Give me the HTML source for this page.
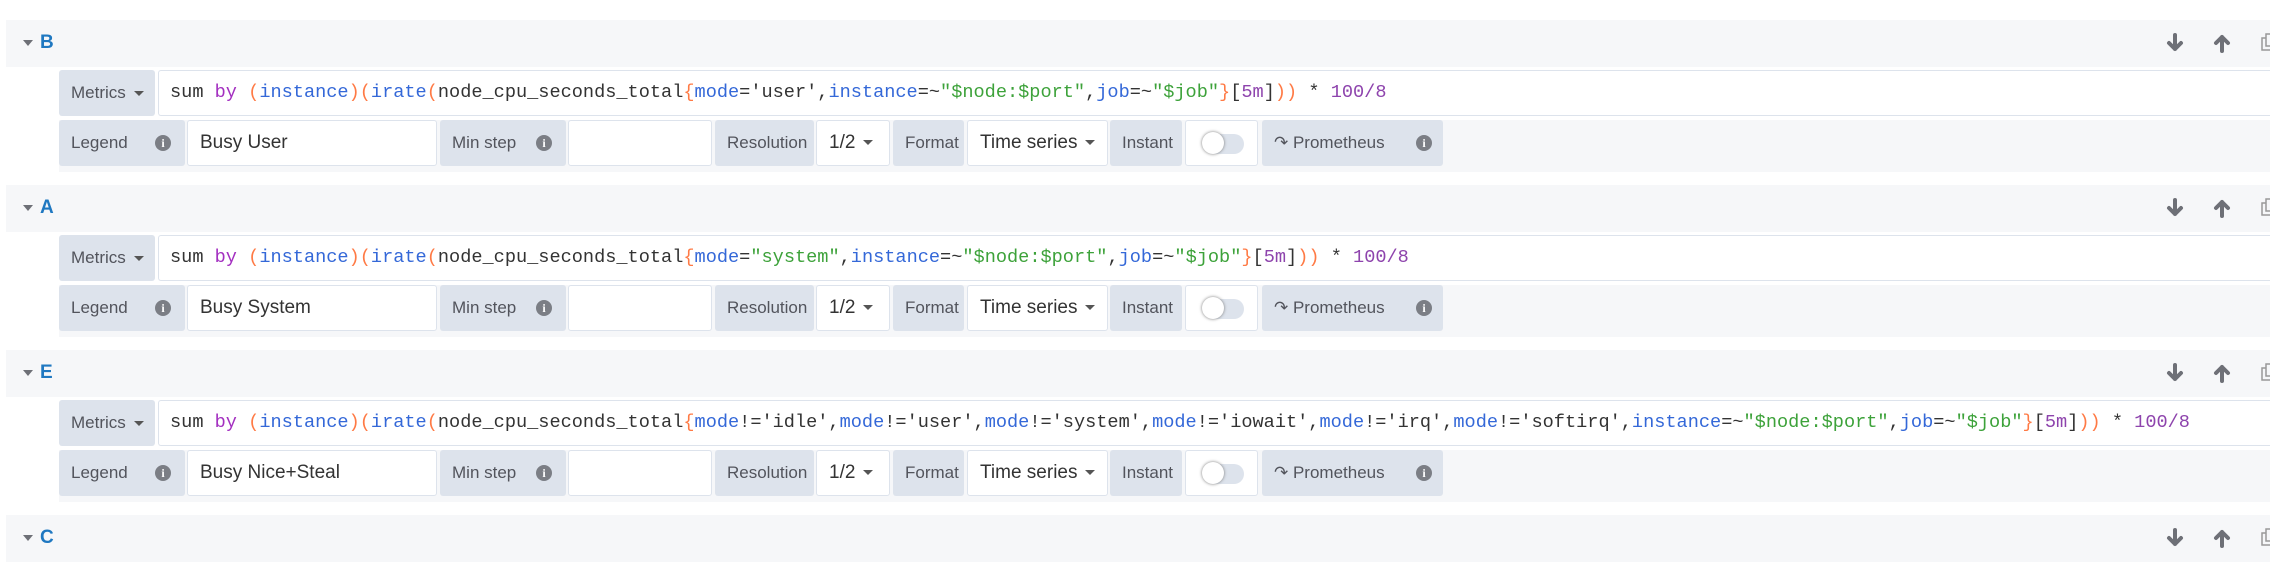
<!DOCTYPE html>
<html><head><meta charset="utf-8"><style>
*{box-sizing:border-box;margin:0;padding:0}
body{width:2270px;height:558px;background:#fff;position:relative;overflow:hidden;font-family:"Liberation Sans",sans-serif}
.a{position:absolute}
.hdr{position:absolute;left:6px;width:2264px;height:47px;background:#f6f7f9}
.tri{position:absolute;left:17px;top:20px;width:0;height:0;border-left:5px solid transparent;border-right:5px solid transparent;border-top:6px solid #6e7077}
.ttl{position:absolute;left:34px;top:12px;font-size:19px;font-weight:bold;color:#1f78c1}
.ic{position:absolute;top:13px}
.bg2{position:absolute;left:59px;width:2211px;height:52px;background:#f6f7f9}
.lab{position:absolute;height:46px;background:#dde3ec;border-radius:3px;color:#52545c;font-size:17px;line-height:46px;padding-left:12px}
.inp{position:absolute;height:46px;background:#fff;border:1px solid #dde3ec;border-radius:3px;color:#333;font-size:19px;line-height:44px;padding-left:12px}
.info{position:absolute;top:15px;width:16px;height:16px;border-radius:50%;background:#7b7e85;color:#fff;font-size:12px;font-weight:bold;line-height:16px;text-align:center;font-family:"Liberation Serif",serif}
.car{display:inline-block;width:0;height:0;border-left:5px solid transparent;border-right:5px solid transparent;border-top:5px solid #555;vertical-align:middle;margin-left:8px}
.q{position:absolute;left:158px;right:0;height:46px;background:#fff;border:1px solid #dde3ec;border-right:none;border-radius:3px 0 0 3px;font-family:"Liberation Mono",monospace;font-size:18.6px;line-height:44px;padding-left:11px;color:#333;white-space:pre}
.k{color:#a32fc0}.p{color:#ff7a45}.f{color:#3468d8}.s{color:#3da23a}.n{color:#8e44ad}
.tg{position:absolute;top:13px;left:18px;width:40px;height:20px;border-radius:10px;background:#dde3ec}
.tg:after{content:"";position:absolute;left:-2px;top:-2px;width:22px;height:22px;border-radius:50%;background:#fff;box-shadow:0 0 3px #777}
</style></head><body>

<svg width="0" height="0" style="position:absolute"><defs>
<g id="dn"><path d="M9 2 V16 M3 10 L9 16 L15 10" stroke="#6e7077" stroke-width="4" fill="none" stroke-linecap="round" stroke-linejoin="round"/></g>
<g id="up"><path d="M9 18 V4 M3 10 L9 4 L15 10" stroke="#6e7077" stroke-width="4" fill="none" stroke-linecap="round" stroke-linejoin="round"/></g>
<g id="cp"><rect x="2" y="5" width="9" height="12" fill="none" stroke="#999" stroke-width="1.5"/><rect x="6" y="1" width="9" height="12" fill="#f6f7f9" stroke="#999" stroke-width="1.5"/></g>
</defs></svg>

<div class="a" style="left:0;top:20px;width:2270px;height:160px">
<div class="hdr" style="top:0"><div class="tri"></div><div class="ttl">B</div><svg class="ic" style="left:2160px" width="18" height="20"><use href="#dn"/></svg><svg class="ic" style="left:2207px" width="18" height="20"><use href="#up"/></svg><svg class="ic" style="left:2254px" width="18" height="20"><use href="#cp"/></svg></div>
<div class="bg2" style="top:100px"></div>
<div class="lab" style="left:59px;top:50px;width:96px">Metrics<span class="car"></span></div>
<div class="q" style="top:50px">sum <span class="k">by</span> <span class="p">(</span><span class="f">instance</span><span class="p">)(</span><span class="f">irate</span><span class="p">(</span>node_cpu_seconds_total<span class="p">{</span><span class="f">mode</span>='user',<span class="f">instance</span>=~<span class="s">"$node:$port"</span>,<span class="f">job</span>=~<span class="s">"$job"</span><span class="p">}</span>[<span class="n">5m</span>]<span class="p">))</span> * <span class="n">100/8</span></div>
<div class="lab" style="left:59px;top:100px;width:126px">Legend<div class="info" style="left:96px">i</div></div>
<div class="inp" style="left:187px;top:100px;width:250px">Busy User</div>
<div class="lab" style="left:440px;top:100px;width:126px">Min step<div class="info" style="left:96px">i</div></div>
<div class="inp" style="left:568px;top:100px;width:144px"></div>
<div class="lab" style="left:715px;top:100px;width:99px">Resolution</div>
<div class="inp" style="left:816px;top:100px;width:74px">1/2<span class="car"></span></div>
<div class="lab" style="left:893px;top:100px;width:71px">Format</div>
<div class="inp" style="left:967px;top:100px;width:141px">Time series<span class="car"></span></div>
<div class="lab" style="left:1110px;top:100px;width:72px">Instant</div>
<div class="inp" style="left:1185px;top:100px;width:73px"><div class="tg"></div></div>
<div class="lab" style="left:1262px;top:100px;width:181px">&#8631; Prometheus<div class="info" style="left:154px">i</div></div>
</div>

<div class="a" style="left:0;top:185px;width:2270px;height:160px">
<div class="hdr" style="top:0"><div class="tri"></div><div class="ttl">A</div><svg class="ic" style="left:2160px" width="18" height="20"><use href="#dn"/></svg><svg class="ic" style="left:2207px" width="18" height="20"><use href="#up"/></svg><svg class="ic" style="left:2254px" width="18" height="20"><use href="#cp"/></svg></div>
<div class="bg2" style="top:100px"></div>
<div class="lab" style="left:59px;top:50px;width:96px">Metrics<span class="car"></span></div>
<div class="q" style="top:50px">sum <span class="k">by</span> <span class="p">(</span><span class="f">instance</span><span class="p">)(</span><span class="f">irate</span><span class="p">(</span>node_cpu_seconds_total<span class="p">{</span><span class="f">mode</span>=<span class="s">"system"</span>,<span class="f">instance</span>=~<span class="s">"$node:$port"</span>,<span class="f">job</span>=~<span class="s">"$job"</span><span class="p">}</span>[<span class="n">5m</span>]<span class="p">))</span> * <span class="n">100/8</span></div>
<div class="lab" style="left:59px;top:100px;width:126px">Legend<div class="info" style="left:96px">i</div></div>
<div class="inp" style="left:187px;top:100px;width:250px">Busy System</div>
<div class="lab" style="left:440px;top:100px;width:126px">Min step<div class="info" style="left:96px">i</div></div>
<div class="inp" style="left:568px;top:100px;width:144px"></div>
<div class="lab" style="left:715px;top:100px;width:99px">Resolution</div>
<div class="inp" style="left:816px;top:100px;width:74px">1/2<span class="car"></span></div>
<div class="lab" style="left:893px;top:100px;width:71px">Format</div>
<div class="inp" style="left:967px;top:100px;width:141px">Time series<span class="car"></span></div>
<div class="lab" style="left:1110px;top:100px;width:72px">Instant</div>
<div class="inp" style="left:1185px;top:100px;width:73px"><div class="tg"></div></div>
<div class="lab" style="left:1262px;top:100px;width:181px">&#8631; Prometheus<div class="info" style="left:154px">i</div></div>
</div>

<div class="a" style="left:0;top:350px;width:2270px;height:160px">
<div class="hdr" style="top:0"><div class="tri"></div><div class="ttl">E</div><svg class="ic" style="left:2160px" width="18" height="20"><use href="#dn"/></svg><svg class="ic" style="left:2207px" width="18" height="20"><use href="#up"/></svg><svg class="ic" style="left:2254px" width="18" height="20"><use href="#cp"/></svg></div>
<div class="bg2" style="top:100px"></div>
<div class="lab" style="left:59px;top:50px;width:96px">Metrics<span class="car"></span></div>
<div class="q" style="top:50px">sum <span class="k">by</span> <span class="p">(</span><span class="f">instance</span><span class="p">)(</span><span class="f">irate</span><span class="p">(</span>node_cpu_seconds_total<span class="p">{</span><span class="f">mode</span>!='idle',<span class="f">mode</span>!='user',<span class="f">mode</span>!='system',<span class="f">mode</span>!='iowait',<span class="f">mode</span>!='irq',<span class="f">mode</span>!='softirq',<span class="f">instance</span>=~<span class="s">"$node:$port"</span>,<span class="f">job</span>=~<span class="s">"$job"</span><span class="p">}</span>[<span class="n">5m</span>]<span class="p">))</span> * <span class="n">100/8</span></div>
<div class="lab" style="left:59px;top:100px;width:126px">Legend<div class="info" style="left:96px">i</div></div>
<div class="inp" style="left:187px;top:100px;width:250px">Busy Nice+Steal</div>
<div class="lab" style="left:440px;top:100px;width:126px">Min step<div class="info" style="left:96px">i</div></div>
<div class="inp" style="left:568px;top:100px;width:144px"></div>
<div class="lab" style="left:715px;top:100px;width:99px">Resolution</div>
<div class="inp" style="left:816px;top:100px;width:74px">1/2<span class="car"></span></div>
<div class="lab" style="left:893px;top:100px;width:71px">Format</div>
<div class="inp" style="left:967px;top:100px;width:141px">Time series<span class="car"></span></div>
<div class="lab" style="left:1110px;top:100px;width:72px">Instant</div>
<div class="inp" style="left:1185px;top:100px;width:73px"><div class="tg"></div></div>
<div class="lab" style="left:1262px;top:100px;width:181px">&#8631; Prometheus<div class="info" style="left:154px">i</div></div>
</div>

<div class="a" style="left:0;top:515px;width:2270px;height:43px">
<div class="hdr" style="top:0"><div class="tri"></div><div class="ttl">C</div><svg class="ic" style="left:2160px" width="18" height="20"><use href="#dn"/></svg><svg class="ic" style="left:2207px" width="18" height="20"><use href="#up"/></svg><svg class="ic" style="left:2254px" width="18" height="20"><use href="#cp"/></svg></div>
</div>
</body></html>
